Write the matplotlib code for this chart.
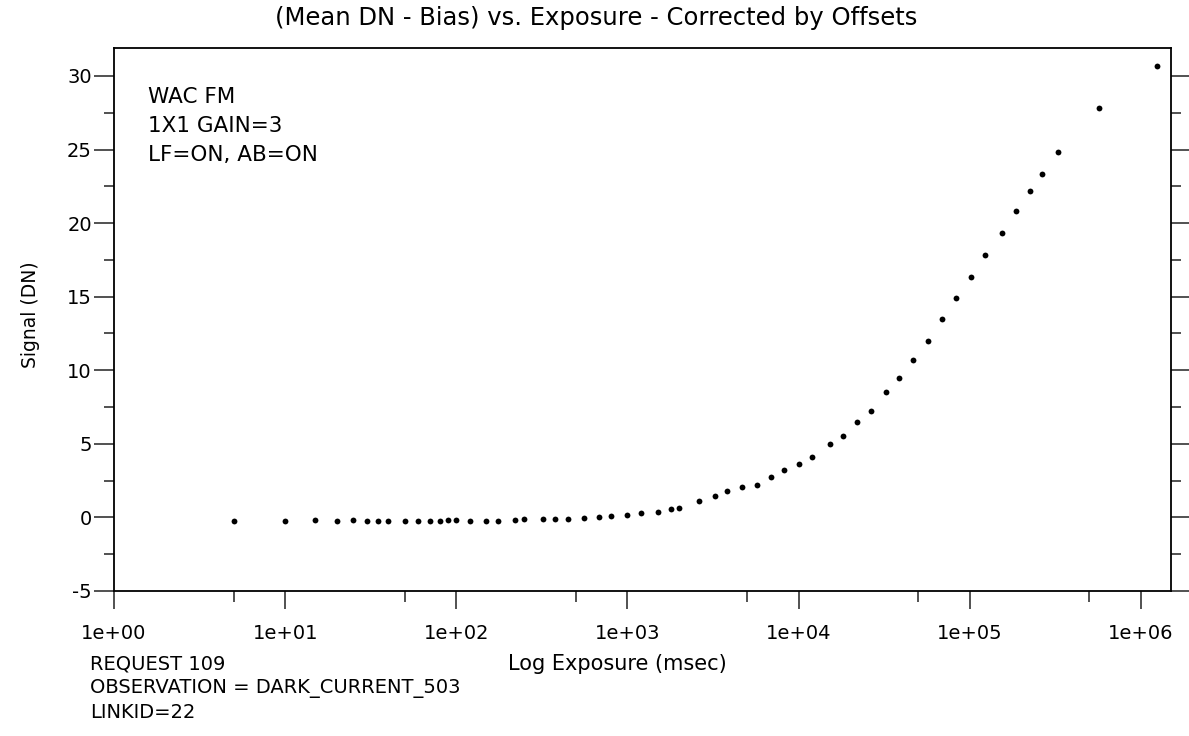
import matplotlib
matplotlib.use("Agg")
import matplotlib.pyplot as plt
from matplotlib.ticker import FixedLocator, NullFormatter

# ---- data ----
exposure_msec = [5, 10, 15, 20, 25, 30, 35, 40, 50, 60, 70, 80, 90, 100, 120,
                 150, 175, 220, 250, 320, 375, 450, 560, 680, 800, 1000, 1200,
                 1500, 1800, 2000, 2600, 3250, 3800, 4650, 5700, 6900, 8250,
                 10000, 12000, 15200, 18200, 22000, 26600, 32400, 38800, 46400,
                 57300, 68800, 83600, 101800, 122000, 154000, 185000, 224000,
                 263000, 327000, 571000, 1235000]
signal_dn = [-0.25, -0.25, -0.2, -0.25, -0.2, -0.25, -0.25, -0.25, -0.25, -0.25,
             -0.25, -0.25, -0.2, -0.2, -0.22, -0.22, -0.22, -0.15, -0.1, -0.14,
             -0.1, -0.08, -0.02, 0.02, 0.1, 0.18, 0.3, 0.4, 0.55, 0.65, 1.1,
             1.45, 1.77, 2.1, 2.2, 2.72, 3.2, 3.65, 4.1, 5.0, 5.55, 6.5, 7.25,
             8.55, 9.46, 10.73, 12.0, 13.45, 14.9, 16.35, 17.8, 19.35, 20.8,
             22.15, 23.35, 24.8, 27.85, 30.7]

x_major = [1e0, 1e1, 1e2, 1e3, 1e4, 1e5, 1e6]
x_major_labels = ["1e+00", "1e+01", "1e+02", "1e+03", "1e+04", "1e+05", "1e+06"]
x_minor = [5e0, 5e1, 5e2, 5e3, 5e4, 5e5]
y_major = [-5, 0, 5, 10, 15, 20, 25, 30]
y_minor = [-2.5, 2.5, 7.5, 12.5, 17.5, 22.5, 27.5]

title = "(Mean DN - Bias) vs. Exposure - Corrected by Offsets"
xlabel = "Log Exposure (msec)"
ylabel = "Signal (DN)"
info_lines = ["WAC FM", "1X1 GAIN=3", "LF=ON, AB=ON"]
footer_lines = ["REQUEST 109", "OBSERVATION = DARK_CURRENT_503", "LINKID=22"]

# ---- figure ----
plt.rcParams['font.family'] = ['DejaVu Sans']
plt.rcParams['axes.unicode_minus'] = False
W, H = 1189, 736
fig = plt.figure(figsize=(W / 100, H / 100), dpi=100)
ax = fig.add_axes([114 / W, 1 - 591 / H, (1171 - 114) / W, (591 - 48) / H])

ax.plot(exposure_msec, signal_dn, linestyle="none", marker="o",
        markersize=4.2, color="black", markeredgewidth=0)

ax.set_xscale("log")
ax.set_xlim(1e0, 10 ** (6 + 30 / 171))
ax.set_ylim(-5, 31.9)

ax.xaxis.set_major_locator(FixedLocator(x_major))
ax.set_xticklabels(x_major_labels)
ax.xaxis.set_minor_locator(FixedLocator(x_minor))
ax.xaxis.set_minor_formatter(NullFormatter())
ax.yaxis.set_major_locator(FixedLocator(y_major))
ax.yaxis.set_minor_locator(FixedLocator(y_minor))

ax.tick_params(axis="x", which="major", direction="out", length=13, width=1.2,
               labelsize=14, pad=11, color="#333333")
ax.tick_params(axis="x", which="minor", direction="out", length=8, width=1.2,
               color="#333333")
ax.tick_params(axis="y", which="major", direction="out", length=14.4, width=1.2,
               labelsize=14, pad=1.5, right=True, color="#333333")
ax.tick_params(axis="y", which="minor", direction="out", length=7.2, width=1.2,
               right=True, color="#333333")
ax.tick_params(axis="y", which="both", labelright=False)

for s in ax.spines.values():
    s.set_linewidth(1.3)
    s.set_color("black")

fig.text(596 / W, 1 - 18 / H, title, ha="center", va="center", fontsize=17.5)
fig.text(617 / W, 1 - 664 / H, xlabel, ha="center", va="center", fontsize=15)
fig.text(30 / W, 1 - 315 / H, ylabel, ha="center", va="center", fontsize=13.5,
         rotation=90)

for i, line in enumerate(info_lines):
    fig.text(148 / W, 1 - (97 + 29 * i) / H, line, ha="left", va="center",
             fontsize=15.5)
for i, line in enumerate(footer_lines):
    fig.text(90 / W, 1 - (664 + 24 * i) / H, line, ha="left", va="center",
             fontsize=14)

fig.savefig("out.png", dpi=100)
